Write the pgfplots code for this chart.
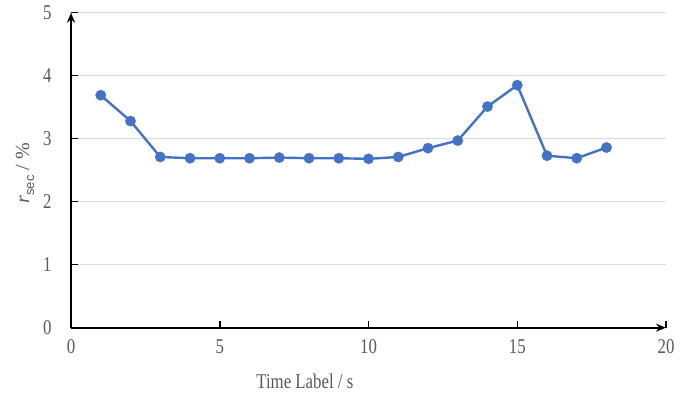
\documentclass[border=0pt]{standalone}
\usepackage{pgfplots}
\pgfplotsset{compat=1.18}
\usepackage{fontspec}
\setmainfont[FakeStretch=0.8]{Liberation Serif}
\newfontfamily\ylabfont{Liberation Serif}
\newfontfamily\ysans{Liberation Sans}
\usetikzlibrary{arrows.meta}
\definecolor{lineblue}{HTML}{4472C4}
\definecolor{txtgray}{HTML}{595959}
\definecolor{gridgray}{HTML}{D9D9D9}
\begin{document}
\begin{tikzpicture}
\begin{axis}[
  name=ax,
  scale only axis,
  width=595pt, height=315pt,
  xmin=0, xmax=20, ymin=0, ymax=5,
  xtick={0,5,10,15,20}, ytick={0,1,2,3,4,5},
  axis lines=left,
  x axis line style={draw=black, line width=1.7pt, -{Stealth[length=10pt,width=8pt]}},
  y axis line style={draw=black, line width=1.7pt, -{Stealth[length=10pt,width=8pt]}},
  tick align=inside,
  xtick pos=bottom, ytick pos=left,
  every tick/.style={draw=black, line width=1.5pt},
  major tick length=7pt,
  ymajorgrids, grid style={gridgray, line width=1pt},
  /pgf/number format/assume math mode=true,
  ticklabel style={font=\fontsize{21}{24}\selectfont, text=txtgray},
  yticklabel style={xshift=-16pt},
  xticklabel style={anchor=base, yshift=-25.5pt},
  xlabel={Time Label / s},
  ylabel={\ylabfont\fontsize{20}{24}\selectfont\textit{r}\raisebox{-0.25em}{\ysans\fontsize{13}{15}\selectfont sec} / \%},
  label style={font=\fontsize{21}{24}\selectfont, text=txtgray},
  xlabel style={at={(axis description cs:0.393,0)}, anchor=base, yshift=-61pt},
  ylabel style={at={(axis description cs:-0.0773,0.49)}, anchor=center},
]
\addplot[lineblue, line width=2.4pt, mark=*, mark size=5.2pt, mark options={solid, fill=lineblue, draw=lineblue, line width=0.3pt}] coordinates {
(1,3.69) (2,3.28) (3,2.71) (4,2.69) (5,2.69) (6,2.69) (7,2.70) (8,2.69) (9,2.69)
(10,2.68) (11,2.71) (12,2.85) (13,2.97) (14,3.51) (15,3.85) (16,2.73) (17,2.69) (18,2.86)
};
\end{axis}
\pgfresetboundingbox
\path ([shift={(-71pt,-69pt)}]ax.south west) rectangle ([shift={(24pt,12.7pt)}]ax.north east);
\end{tikzpicture}
\end{document}
